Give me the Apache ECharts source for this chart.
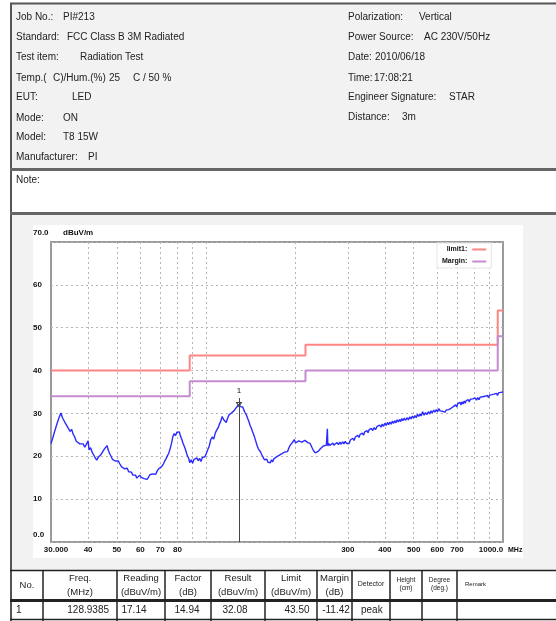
<!DOCTYPE html>
<html><head><meta charset="utf-8">
<script src="https://cdn.jsdelivr.net/npm/echarts@6/dist/echarts.min.js"></script>
<style>html,body{margin:0;padding:0;background:#fff;}#c{width:556px;height:621px;}</style>
</head><body><div id="c"></div>
<script>
// ---- measured trace: [frequency MHz, level dBuV/m]
const traceData = [
[30.0,23.0],[30.4,24.2],[30.8,25.6],[31.2,26.9],[31.6,28.1],[32.0,29.2],[32.4,30.1],[32.8,29.0],[33.2,28.3],[33.6,27.6],
[34.0,27.9],[34.4,26.4],[34.8,25.8],[35.2,26.3],[35.6,25.2],[36.0,24.6],[36.5,23.5],[37.0,23.8],[37.5,22.9],[38.0,22.6],
[38.5,22.9],[39.0,22.1],[39.5,21.8],[40.0,23.6],[40.3,21.5],[40.8,22.0],[41.3,20.9],[41.8,20.3],[42.3,19.6],[42.8,19.1],
[43.3,19.8],[43.8,19.4],[44.3,20.5],[44.8,20.9],[45.3,21.6],[45.8,21.3],[46.3,22.5],[46.8,21.4],[47.3,20.6],[47.8,20.0],
[48.3,19.3],[48.8,19.7],[49.4,18.9],[50.0,18.5],[50.6,18.9],[51.2,18.2],[51.8,17.6],[52.4,17.9],[53.0,17.1],[53.6,16.8],
[54.2,17.2],[54.8,16.4],[55.4,16.0],[56.0,16.3],[56.6,15.6],[57.2,15.2],[57.8,15.6],[58.4,14.9],[59.0,15.3],[59.7,15.6],
[60.4,15.1],[61.1,15.5],[61.8,14.8],[62.5,15.2],[63.2,14.6],[63.9,15.1],[64.6,15.7],[65.3,15.3],[66.0,15.9],[66.8,16.2],
[67.6,15.8],[68.4,16.6],[69.2,17.1],[70.0,16.9],[70.8,17.6],[71.6,18.1],[72.4,18.8],[73.2,19.4],[74.0,20.1],[74.8,20.7],
[75.6,21.8],[76.4,23.0],[77.2,24.6],[78.0,25.3],[78.8,24.8],[79.6,25.6],[80.4,25.2],[81.2,25.7],[82.0,24.6],[82.8,23.9],
[83.6,23.0],[84.5,22.2],[85.4,21.3],[86.3,20.2],[87.2,19.6],[88.1,18.5],[89.0,19.2],[90.0,18.4],[91.0,19.3],[92.0,18.9],
[93.0,19.6],[94.0,19.0],[95.0,19.5],[96.0,18.8],[97.0,19.7],[98.0,19.3],[99.0,19.9],[100.0,20.6],[101.2,21.5],[102.4,22.4],
[103.6,23.9],[104.8,24.5],[106.0,24.0],[107.2,25.3],[108.4,26.1],[109.6,26.6],[110.8,27.5],[112.0,28.2],[113.2,29.3],[114.4,28.6],
[115.6,28.9],[116.8,27.9],[118.0,28.8],[119.2,29.6],[120.4,29.2],[121.6,30.1],[122.8,29.8],[124.0,30.6],[125.2,31.0],[126.4,31.4],
[127.6,31.7],[128.9,32.1],[130.2,31.6],[131.5,31.2],[132.8,31.5],[134.1,30.7],[135.4,30.1],[136.7,29.6],[138.0,28.8],[139.3,28.1],
[140.6,27.2],[141.9,26.6],[143.2,25.8],[144.5,25.1],[145.8,24.3],[147.1,23.9],[148.4,22.5],[149.7,21.8],[151.0,21.9],[152.5,21.0],
[154.0,20.3],[155.5,19.8],[157.0,19.2],[158.5,18.8],[160.0,19.3],[161.5,18.6],[163.0,18.9],[164.5,18.5],[166.0,19.2],[167.5,18.7],
[169.0,19.4],[170.5,19.1],[172.0,19.8],[174.0,19.5],[176.0,20.2],[178.0,20.0],[180.0,20.6],[182.0,20.3],[184.0,21.0],[186.0,21.4],
[188.0,21.1],[190.0,22.0],[192.0,22.6],[194.0,22.3],[196.0,23.4],[198.0,23.9],[200.0,23.1],[205.0,23.6],[210.0,23.3],[215.0,23.7],
[220.0,23.2],[224.0,23.0],[227.0,22.1],[230.0,21.3],[233.0,20.8],[236.0,20.6],[239.0,21.2],[242.0,21.7],[245.0,22.0],[248.0,22.4],
[251.0,22.2],[254.0,22.6],[256.0,26.4],[257.0,22.4],[259.0,23.0],[261.0,22.5],[263.0,22.9],[265.0,22.3],[267.0,23.1],[269.0,22.6],
[271.0,22.9],[273.0,22.4],[276.0,23.2],[279.0,22.7],[282.0,23.3],[285.0,22.8],[288.0,23.4],[291.0,22.9],[294.0,23.5],[297.0,23.0],
[300.0,23.4],[303.0,23.0],[306.0,23.8],[309.0,23.4],[312.0,24.2],[315.0,23.7],[318.0,24.5],[321.0,24.1],[324.0,24.9],[327.0,24.4],
[330.0,25.1],[333.0,24.7],[336.0,25.4],[339.0,24.9],[342.0,25.7],[345.0,25.3],[348.0,26.0],[351.0,25.5],[354.0,26.2],[357.0,25.8],
[360.0,26.5],[364.0,26.0],[368.0,26.7],[372.0,26.2],[376.0,26.9],[380.0,26.5],[384.0,27.3],[388.0,26.8],[392.0,27.5],[396.0,27.0],
[400.0,27.7],[404.0,27.2],[408.0,27.9],[412.0,27.4],[416.0,28.0],[420.0,27.5],[424.0,28.2],[428.0,27.7],[432.0,28.3],[436.0,27.8],
[440.0,28.5],[444.0,28.0],[448.0,28.6],[452.0,28.1],[456.0,28.8],[460.0,28.3],[465.0,28.9],[470.0,28.4],[475.0,29.0],[480.0,28.5],
[485.0,29.2],[490.0,28.7],[495.0,29.4],[500.0,28.9],[505.0,29.5],[510.0,29.0],[515.0,29.8],[520.0,29.3],[525.0,29.9],[530.0,29.4],
[536.0,30.4],[542.0,29.6],[548.0,30.2],[554.0,29.7],[560.0,30.4],[566.0,29.9],[572.0,30.6],[578.0,30.1],[584.0,30.8],[590.0,30.3],
[596.0,30.9],[602.0,30.4],[608.0,31.1],[614.0,30.6],[620.0,31.0],[626.0,30.5],[632.0,30.9],[638.0,30.3],[644.0,30.8],[650.0,30.4],
[656.0,30.9],[662.0,30.5],[668.0,31.2],[674.0,30.9],[680.0,31.6],[686.0,31.2],[692.0,32.0],[698.0,31.5],[704.0,32.3],[710.0,31.9],
[716.0,32.6],[722.0,32.0],[728.0,32.7],[734.0,32.2],[740.0,32.9],[746.0,32.4],[752.0,33.0],[758.0,32.6],[764.0,33.2],[770.0,32.7],
[776.0,33.3],[782.0,32.9],[790.0,33.4],[798.0,33.0],[806.0,33.6],[814.0,33.1],[822.0,33.7],[830.0,33.2],[838.0,33.8],[846.0,33.4],
[854.0,33.9],[862.0,33.5],[870.0,34.0],[878.0,33.6],[886.0,34.2],[894.0,33.7],[902.0,34.3],[910.0,33.9],[918.0,34.4],[926.0,34.0],
[934.0,34.5],[942.0,34.1],[950.0,34.7],[958.0,34.2],[966.0,34.8],[974.0,34.4],[982.0,34.9],[990.0,34.5],[1000.0,35.0]
];
// ---- limit / margin (step lines)
const limitFreq = [30, 88, 88, 216, 216, 960, 960, 1000];
const limitDb   = [40, 40, 43.5, 43.5, 46, 46, 54, 54];
const marginDb  = [34, 34, 37.5, 37.5, 40, 40, 48, 48];
// ---- axes
const xLabelValues = [30, 40, 50, 60, 70, 80, 300, 400, 500, 600, 700, 1000];
const xGridValues  = [40, 50, 60, 70, 80, 90, 100, 200, 300, 400, 500, 600, 700, 800, 900];
const yMin = 0, yMax = 70, yStep = 10;
// ---- peak marker
const peakFreq = 128.9385, peakLevel = 32.08, peakLabel = '1';
// ---- header info
const headerLeft = [
  ['Job No.:', 'PI#213'], ['Standard:', 'FCC Class B 3M Radiated'], ['Test item:', 'Radiation Test'],
  ['Temp.(', ''], ['EUT:', 'LED'], ['Mode:', 'ON'], ['Model:', 'T8 15W'], ['Manufacturer:', 'PI']
];
const headerRight = [
  ['Polarization:', 'Vertical'], ['Power Source:', 'AC 230V/50Hz'], ['Date:', '2010/06/18'],
  ['Time:', '17:08:21'], ['Engineer Signature:', 'STAR'], ['Distance:', '3m']
];
// ---- result table
const tableHead1 = ['No.', 'Freq.', 'Reading', 'Factor', 'Result', 'Limit', 'Margin', 'Detector', 'Height', 'Degree', 'Remark'];
const tableHead2 = ['', '(MHz)', '(dBuV/m)', '(dB)', '(dBuV/m)', '(dBuV/m)', '(dB)', '', '(cm)', '(deg.)', ''];
const tableRow1  = ['1', '128.9385', '17.14', '14.94', '32.08', '43.50', '-11.42', 'peak', '', '', ''];

const FONT = '"Liberation Sans", Arial, sans-serif';
const chart = echarts.init(document.getElementById('c'), null, {renderer: 'canvas'});

function txt(x, y, s, size, opts) {
  opts = opts || {};
  return {
    type: 'text', z: 100, silent: true,
    style: {
      x: x, y: y, text: s,
      font: (opts.bold ? 'bold ' : '') + size + 'px ' + FONT,
      fill: opts.color || '#222',
      align: opts.align || 'left', verticalAlign: 'middle',
      textAlign: opts.align || 'left', textVerticalAlign: 'middle'
    }
  };
}
function rect(x, y, w, h, fill, z) {
  return {type: 'rect', z: z == null ? -100 : z, silent: true, shape: {x: x, y: y, width: w, height: h}, style: {fill: fill}};
}
function hline(x1, x2, y, w, color) {
  return {type: 'line', z: 50, silent: true, shape: {x1: x1, y1: y, x2: x2, y2: y}, style: {stroke: color || '#222', lineWidth: w}};
}
function vline(x, y1, y2, w, color) {
  return {type: 'line', z: 50, silent: true, shape: {x1: x, y1: y1, x2: x, y2: y2}, style: {stroke: color || '#222', lineWidth: w}};
}

const g = [];
// backgrounds
g.push(rect(12, 4, 544, 165, '#f2f2f2'));
g.push(rect(12, 171, 544, 42, '#ffffff'));
g.push(rect(12, 215, 544, 355, '#f2f2f2'));
g.push(rect(33, 225, 490, 333, '#ffffff', -90));
g.push(rect(12, 571, 544, 50, '#ffffff'));
// frame lines
g.push(hline(10, 556, 3.5, 2, '#555'));
g.push(vline(11, 3, 621, 2, '#555'));
g.push(hline(10, 556, 169.5, 3, '#666'));
g.push(hline(10, 556, 213.5, 3, '#666'));
// header texts
const leftY = [17, 37, 57, 78, 97, 118, 137, 157];
const leftValX = [63, 67, 80, 0, 72, 63, 63, 88];
headerLeft.forEach((r, i) => {
  g.push(txt(16, leftY[i], r[0], 10));
  if (r[1]) g.push(txt(leftValX[i], leftY[i], r[1], 10));
});
g.push(txt(53, 78, 'C)/Hum.(%)', 10));
g.push(txt(109, 78, '25', 10));
g.push(txt(133, 78, 'C / 50 %', 10));
const rightY = [17, 37, 57, 78, 97, 117];
const rightValX = [419, 424, 375, 374, 449, 402];
headerRight.forEach((r, i) => {
  g.push(txt(348, rightY[i], r[0], 10));
  g.push(txt(rightValX[i], rightY[i], r[1], 10));
});
g.push(txt(16, 180, 'Note:', 10));
// chart extras
g.push(txt(63, 233, 'dBuV/m', 8, {bold: true, color: '#111'}));
g.push(txt(508, 550, 'MHz', 7, {bold: true, color: '#111'}));
// table
const colX = [11, 43, 117, 165, 211, 265, 317, 352, 390, 422, 457, 556];
g.push(hline(10, 556, 570.5, 1.5, '#222'));
g.push(hline(10, 556, 600.5, 3, '#222'));
g.push(hline(10, 556, 619.5, 1.5, '#222'));
colX.slice(1, 11).forEach(x => g.push(vline(x, 570, 621, 1.5, '#222')));
tableHead1.forEach((h, i) => {
  const cx = (colX[i] + colX[i + 1]) / 2;
  if (i === 0) { g.push(txt(cx, 585, h, 9.5, {align: 'center'})); return; }
  if (i === 7) { g.push(txt(cx, 584, h, 7, {align: 'center'})); return; }
  if (i === 10) { g.push(txt(465, 584, h, 6, {})); return; }
  const small = (i === 8 || i === 9);
  g.push(txt(cx, small ? 580 : 578, h, small ? 6.5 : 9.5, {align: 'center'}));
  if (tableHead2[i]) g.push(txt(cx, small ? 588 : 592, tableHead2[i], small ? 6.5 : 9.5, {align: 'center'}));
});
const rowPos = [[16, 'left'], [109, 'right'], [134, 'center'], [187, 'center'], [235, 'center'], [297, 'center'], [336, 'center'], [361, 'left']];
tableRow1.forEach((v, i) => {
  if (!v || !rowPos[i]) return;
  g.push(txt(rowPos[i][0], 610, v, 10, {align: rowPos[i][1]}));
});

const limitData = limitFreq.map((f, i) => [f, limitDb[i]]);
const marginData = limitFreq.map((f, i) => [f, marginDb[i]]);

const option = {
  animation: false,
  backgroundColor: '#ffffff',
  graphic: {elements: g},
  grid: {left: 51, top: 242, width: 452, height: 300, show: true, borderColor: '#9a9a9a', borderWidth: 2, backgroundColor: 'transparent', containLabel: false},
  legend: {
    data: [{name: 'limit1:', icon: 'rect'}, {name: 'Margin:', icon: 'rect'}],
    orient: 'vertical', left: 437, top: 243, align: 'right',
    itemWidth: 14, itemHeight: 2, itemGap: 5,
    backgroundColor: '#ffffff', borderColor: '#e4e4e4', borderWidth: 1, padding: [3, 5, 3, 5],
    textStyle: {fontSize: 7, fontWeight: 'bold', color: '#111', fontFamily: FONT, width: 34},
    selectedMode: false
  },
  xAxis: {
    type: 'log', logBase: 10, min: 30, max: 1000,
    axisLine: {show: false},
    axisTick: {show: false, customValues: xGridValues},
    splitLine: {show: true, lineStyle: {color: '#b5b5b5', type: [2, 3], width: 1}},
    minorTick: {show: false}, minorSplitLine: {show: false},
    axisLabel: {
      customValues: xLabelValues, margin: 4,
      fontSize: 8, fontWeight: 'bold', color: '#111', fontFamily: FONT,
      formatter: v => v === 30 ? '{a|30.000}' : (v === 1000 ? '{b|1000.0}' : String(v)),
      rich: {
        a: {fontSize: 8, fontWeight: 'bold', color: '#111', fontFamily: FONT, padding: [0, 0, 0, 10]},
        b: {fontSize: 8, fontWeight: 'bold', color: '#111', fontFamily: FONT, padding: [0, 24, 0, 0]}
      }
    }
  },
  yAxis: {
    type: 'value', min: yMin, max: yMax, interval: yStep,
    axisLine: {show: false}, axisTick: {show: false},
    splitLine: {show: true, lineStyle: {color: '#b5b5b5', type: [2, 3], width: 1}},
    axisLabel: {
      align: 'left', margin: 18,
      fontSize: 8, fontWeight: 'bold', color: '#111', fontFamily: FONT,
      formatter: v => v === yMax ? '{t|70.0}' : (v === yMin ? '{z|0.0}' : String(v)),
      rich: {
        t: {fontSize: 8, fontWeight: 'bold', color: '#111', fontFamily: FONT, padding: [0, 0, 18, 0]},
        z: {fontSize: 8, fontWeight: 'bold', color: '#111', fontFamily: FONT, padding: [0, 0, 14, 0]}
      }
    }
  },
  series: [
    {
      name: 'limit1:', type: 'line', data: limitData, symbol: 'none', silent: true,
      lineStyle: {color: '#ff8585', width: 2}, itemStyle: {color: '#ff8585'}, z: 3
    },
    {
      name: 'Margin:', type: 'line', data: marginData, symbol: 'none', silent: true,
      lineStyle: {color: '#c48ccf', width: 2}, itemStyle: {color: '#c48ccf'}, z: 3
    },
    {
      name: 'trace', type: 'line', data: traceData, symbol: 'none', silent: true,
      lineStyle: {color: '#2b2bff', width: 1.4}, itemStyle: {color: '#2b2bff'}, z: 4,
      markLine: {
        silent: true, symbol: ['none', 'none'], animation: false,
        lineStyle: {color: '#444', width: 1, type: 'solid'},
        label: {show: true, position: 'start', formatter: peakLabel, fontSize: 8, color: '#111', fontFamily: FONT, distance: 3},
        data: [[{coord: [peakFreq, peakLevel + 1.5]}, {coord: [peakFreq, yMin]}]]
      },
      markPoint: {
        silent: true, symbol: 'triangle', symbolRotate: 180, symbolSize: [5, 4],
        itemStyle: {color: 'transparent', borderColor: '#444', borderWidth: 1},
        label: {show: false},
        data: [{coord: [peakFreq, peakLevel]}]
      }
    }
  ]
};
chart.setOption(option);
</script>
</body></html>
